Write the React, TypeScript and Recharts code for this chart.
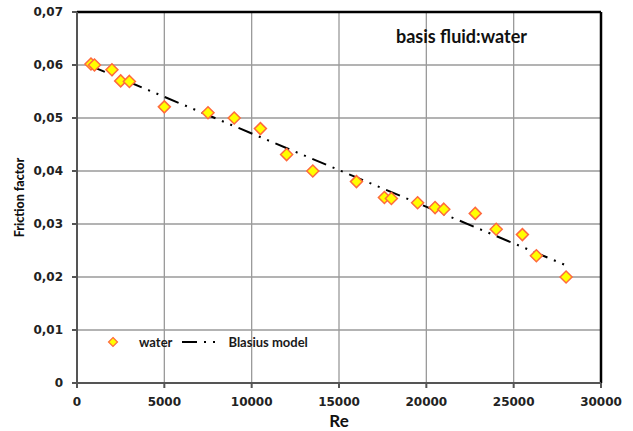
import React from "react"
import {
  ScatterChart,
  Scatter,
  XAxis,
  YAxis,
  CartesianGrid,
  ReferenceLine,
} from "recharts"

// measured Re / friction factor, basis fluid water
const reValues = [800, 1000, 2000, 2500, 3000, 5000, 7500, 9000, 10500, 12000, 13500, 16000, 17600, 18000, 19500, 20500, 21000, 22800, 24000, 25500, 26300, 28000]
const frictionValues = [0.0602, 0.0600, 0.0591, 0.0570, 0.0569, 0.0521, 0.0510, 0.0500, 0.0480, 0.0431, 0.0400, 0.0380, 0.0350, 0.0348, 0.0340, 0.0331, 0.0328, 0.0320, 0.0290, 0.0280, 0.0240, 0.0200]

// Blasius model line (end points)
const blasiusRe = [800, 28000]
const blasiusF = [0.0598, 0.0222]

const xTicks = [0, 5000, 10000, 15000, 20000, 25000, 30000]
const yTicks = [0, 0.01, 0.02, 0.03, 0.04, 0.05, 0.06, 0.07]

const waterData = reValues.map((re, i) => ({ re, f: frictionValues[i] }))
const blasiusData = blasiusRe.map((re, i) => ({ re, f: blasiusF[i] }))

const LINE_DASH = "15 7 2 7 2 7"
const FONT = "'DejaVu Sans', Verdana, sans-serif"

const Diamond = (props: any) => {
  const { cx, cy } = props
  const r = 6
  return (
    <polygon
      points={`${cx},${cy - r} ${cx + r},${cy} ${cx},${cy + r} ${cx - r},${cy}`}
      fill="#FFFF00"
      stroke="#FF6A3D"
      strokeWidth={1.5}
    />
  )
}

const fmtY = (v: number) => (v === 0 ? "0" : v.toFixed(2).replace(".", ","))

const LegendBox = () => (
  <div
    style={{
      position: "absolute",
      left: 107,
      top: 334,
      display: "flex",
      alignItems: "center",
      fontFamily: "Lato, 'Open Sans', sans-serif",
      fontWeight: 700,
      fontSize: 13,
      color: "#1a1a1a",
    }}
  >
    <svg width={12} height={12} style={{ marginRight: 20 }}>
      <polygon points="6,1.5 10.5,6 6,10.5 1.5,6" fill="#FFFF00" stroke="#FF6A3D" strokeWidth={1.2} />
    </svg>
    <span>water</span>
    <svg width={40} height={10} style={{ marginLeft: 10, marginRight: 6 }}>
      <line x1={0} y1={5} x2={40} y2={5} stroke="#000" strokeWidth={2} strokeDasharray="15 7 2 7 2 7" />
    </svg>
    <span>Blasius model</span>
  </div>
)

export default function App() {
  return (
    <div style={{ position: "absolute", left: 0, top: 0, width: 633, height: 431, background: "#fff" }}>
      <ScatterChart width={633} height={431} margin={{ top: 12, right: 32, bottom: 0, left: 0 }}>
        <CartesianGrid stroke="#9a9a9a" strokeWidth={1.3} />
        <XAxis
          type="number"
          dataKey="re"
          domain={[0, 30000]}
          ticks={xTicks}
          height={48}
          stroke="#555"
          strokeWidth={2}
          tickSize={5}
          tickMargin={9}
          tick={{ fontSize: 12, fontWeight: 700, fill: "#222", fontFamily: FONT }}
          label={{ value: "Re", position: "insideBottom", offset: 4, style: { fontSize: 17, fontWeight: 700, fill: "#111", fontFamily: "Lato, sans-serif" } }}
        />
        <YAxis
          type="number"
          dataKey="f"
          domain={[0, 0.07]}
          ticks={yTicks}
          width={77}
          stroke="#555"
          strokeWidth={2}
          tickSize={5}
          tickMargin={9}
          tickFormatter={fmtY}
          tick={{ fontSize: 12, fontWeight: 700, fill: "#222", fontFamily: FONT }}
          label={{ value: "Friction factor", angle: -90, position: "insideLeft", offset: 20, style: { fontSize: 12.5, fontWeight: 900, fill: "#111", fontFamily: "Lato, sans-serif", textAnchor: "middle" } }}
        />
        <ReferenceLine y={0.07} stroke="#000" strokeWidth={2.5} />
        <ReferenceLine x={30000} stroke="#000" strokeWidth={2.5} />
        <Scatter
          name="Blasius model"
          data={blasiusData}
          line={{ stroke: "#000", strokeWidth: 2, strokeDasharray: LINE_DASH }}
          shape={() => null}
          isAnimationActive={false}
        />
        <Scatter name="water" data={waterData} shape={Diamond} isAnimationActive={false} />
      </ScatterChart>
      <LegendBox />
      <div
        style={{
          position: "absolute",
          left: 396,
          top: 25,
          fontFamily: "Lato, 'Open Sans', sans-serif",
          fontWeight: 700,
          fontSize: 18,
          color: "#111",
        }}
      >
        basis fluid:water
      </div>
    </div>
  )
}
